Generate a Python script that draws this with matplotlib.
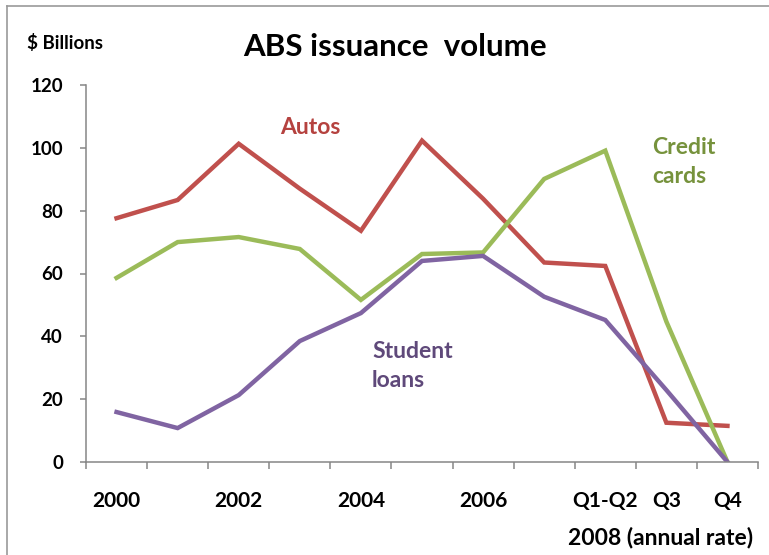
import numpy as np
import matplotlib.pyplot as plt
from matplotlib.lines import Line2D

plt.rcParams['font.family'] = ['Lato', 'DejaVu Sans']
plt.rcParams['font.weight'] = 'bold'

# data ($ billions)
categories = ['2000', '2001', '2002', '2003', '2004', '2005', '2006', '2007',
              'Q1-Q2', 'Q3', 'Q4']
tick_labels = ['2000', '', '2002', '', '2004', '', '2006', '',
               'Q1-Q2', 'Q3', 'Q4']
autos = [77.6, 83.4, 101.3, 87.0, 73.6, 102.3, 83.8, 63.5, 62.4, 12.5, 11.5]
credit_cards = [58.6, 70.0, 71.6, 67.8, 51.6, 66.2, 66.7, 90.1, 99.1, 44.7, 0]
student_loans = [15.9, 10.8, 21.3, 38.5, 47.4, 64.0, 65.6, 52.6, 45.2, 22.9, 0]

W, H = 769, 555
fig = plt.figure(figsize=(W / 100, H / 100), dpi=100)
ax = fig.add_axes([86 / W, (H - 462) / H, (758 - 86) / W, (462 - 85) / H])

x = np.arange(len(categories))
ax.plot(x, autos, color='#C0504D', lw=3.2, solid_joinstyle='miter')
ax.plot(x, credit_cards, color='#9BBB59', lw=3.2, solid_joinstyle='miter')
ax.plot(x, student_loans, color='#8064A2', lw=3.2, solid_joinstyle='miter')

ax.set_xlim(-0.5, len(categories) - 0.5)
ax.set_ylim(0, 120)
ax.set_yticks(range(0, 121, 20))

# category axis: tick marks between categories, labels in the middle
ax.set_xticks(np.arange(-0.5, len(categories), 1))
ax.set_xticklabels([])
ax.set_xticks(x, minor=True)
ax.set_xticklabels(tick_labels, minor=True)
ax.tick_params(axis='x', which='major', length=5, width=1.1, color='#868686')
ax.tick_params(axis='x', which='minor', length=0, pad=21, labelsize=15)
ax.tick_params(axis='y', length=4, width=1.1, color='#868686', pad=12.5,
               labelsize=13.5)

for s in ['top', 'right']:
    ax.spines[s].set_visible(False)
for s in ['left', 'bottom']:
    ax.spines[s].set_color('#868686')
    ax.spines[s].set_linewidth(1.1)

def ftext(px, py, s, **kw):
    fig.text(px / W, 1 - py / H, s, **kw)

ftext(395, 47, 'ABS issuance  volume', fontsize=22.5, ha='center', va='center')
ftext(27, 43, '$ Billions', fontsize=13.5, ha='left', va='center')
ftext(310, 127, 'Autos', fontsize=16.5, color='#B5423F', ha='center', va='center')
ftext(652, 162, 'Credit\ncards', fontsize=16.5, color='#76923C', ha='left',
      va='center', linespacing=1.5)
ftext(372, 366, 'Student\nloans', fontsize=16.5, color='#5F497A', ha='left',
      va='center', linespacing=1.5)
ftext(753, 538, '2008 (annual rate)', fontsize=16.5, ha='right', va='center')

# chart area border (top and left edges visible)
fig.add_artist(Line2D([7 / W, 1], [1 - 6 / H, 1 - 6 / H], color='#999999', lw=1.2))
fig.add_artist(Line2D([7 / W, 7 / W], [0, 1 - 6 / H], color='#999999', lw=1.2))

fig.savefig('out.png', dpi=100)
